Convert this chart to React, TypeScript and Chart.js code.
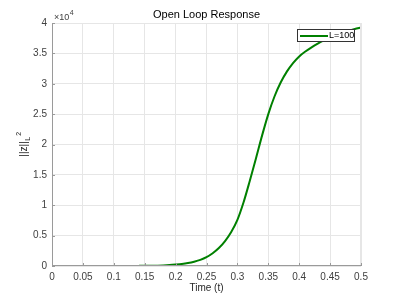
import React, { useEffect, useRef } from "react";
import { Chart, registerables } from "chart.js";

Chart.register(...registerables);

const timeValues: number[] = [
  0, 0.05, 0.1, 0.12, 0.14, 0.16, 0.18, 0.19, 0.2, 0.21, 0.22, 0.23, 0.24, 0.25,
  0.26, 0.27, 0.28, 0.29, 0.3, 0.31, 0.32, 0.33, 0.34, 0.35, 0.36, 0.37, 0.38,
  0.39, 0.4, 0.41, 0.42, 0.43, 0.44, 0.45, 0.46, 0.47, 0.48, 0.49, 0.5,
];
const responseValues: number[] = [
  0, 0, 3, 8, 20, 45, 100, 150, 230, 330, 480, 700, 1000, 1450,
  2100, 2950, 4100, 5600, 7600, 10500, 14000, 17700, 21500, 25000, 27900, 30200, 32000,
  33400, 34500, 35300, 36000, 36620, 37160, 37630, 38040, 38400, 38720, 39000, 39250,
];
const xTickValues: number[] = [0, 0.05, 0.1, 0.15, 0.2, 0.25, 0.3, 0.35, 0.4, 0.45, 0.5];
const yTickValues: number[] = [0, 5000, 10000, 15000, 20000, 25000, 30000, 35000, 40000];
const seriesLabel = "L=100";
const titleText = "Open Loop Response";
const xTitle = "Time (t)";

const FONT = "'Liberation Sans', Arial, Helvetica, sans-serif";
const TEXT = "#262626";
const TICK_TEXT = "#404040";
const AXIS = "#9a9a9a";
const GRID = "#e6e6e6";
const GREEN = "#008000";

const decorPlugin = {
  id: "decor",
  afterDatasetsDraw(chart: any) {
    const { ctx, chartArea: a, scales } = chart;
    const xs = scales.x;
    const ys = scales.y;
    ctx.save();
    ctx.strokeStyle = GRID;
    ctx.lineWidth = 1;
    ctx.beginPath();
    ctx.moveTo(a.left, a.top + 0.5);
    ctx.lineTo(a.right, a.top + 0.5);
    ctx.moveTo(a.right - 0.5, a.top);
    ctx.lineTo(a.right - 0.5, a.bottom);
    ctx.stroke();
    ctx.strokeStyle = AXIS;
    ctx.beginPath();
    ctx.moveTo(a.left + 0.5, a.top);
    ctx.lineTo(a.left + 0.5, a.bottom);
    ctx.moveTo(a.left, a.bottom - 0.5);
    ctx.lineTo(a.right, a.bottom - 0.5);
    xTickValues.forEach((v) => {
      const px = Math.round(xs.getPixelForValue(v)) + 0.5;
      ctx.moveTo(px, a.bottom);
      ctx.lineTo(px, a.bottom - 3);
    });
    yTickValues.forEach((v) => {
      const py = Math.round(ys.getPixelForValue(v)) + 0.5;
      ctx.moveTo(a.left, py);
      ctx.lineTo(a.left + 3, py);
    });
    ctx.stroke();

    ctx.fillStyle = "#000";
    ctx.font = `11px ${FONT}`;
    ctx.textAlign = "center";
    ctx.textBaseline = "middle";
    ctx.fillText(titleText, (a.left + a.right) / 2, 15);

    ctx.fillStyle = TEXT;
    ctx.font = `10px ${FONT}`;
    ctx.fillText(xTitle, (a.left + a.right) / 2, 288);

    ctx.fillStyle = TICK_TEXT;
    ctx.textAlign = "left";
    ctx.textBaseline = "alphabetic";
    ctx.font = `9px ${FONT}`;
    ctx.fillText("\u00d710", a.left + 2, 20);
    const w10 = ctx.measureText("\u00d710").width;
    ctx.font = `7px ${FONT}`;
    ctx.fillText("4", a.left + 2 + w10 + 0.5, 15);

    ctx.save();
    ctx.translate(27, (a.top + a.bottom) / 2);
    ctx.rotate(-Math.PI / 2);
    ctx.fillStyle = TEXT;
    ctx.font = `10px ${FONT}`;
    const main = "||z||";
    const mw = ctx.measureText(main).width;
    ctx.font = `7px ${FONT}`;
    const sw = ctx.measureText("L").width;
    const total = mw + sw + 5;
    const x0 = -total / 2;
    ctx.font = `10px ${FONT}`;
    ctx.textAlign = "left";
    ctx.textBaseline = "alphabetic";
    ctx.fillText(main, x0, 0);
    ctx.font = `7px ${FONT}`;
    ctx.fillText("L", x0 + mw + 0.5, 3);
    ctx.fillText("2", x0 + mw + sw + 1.5, -6);
    ctx.restore();

    const lx = 297, ly = 29, lw = 58, lh = 13;
    ctx.fillStyle = "#fff";
    ctx.fillRect(lx, ly, lw, lh);
    ctx.strokeStyle = "#333";
    ctx.lineWidth = 1;
    ctx.strokeRect(lx + 0.5, ly + 0.5, lw - 1, lh - 1);
    ctx.strokeStyle = GREEN;
    ctx.lineWidth = 2;
    ctx.beginPath();
    ctx.moveTo(lx + 3, ly + lh / 2 + 0.5);
    ctx.lineTo(lx + 31, ly + lh / 2 + 0.5);
    ctx.stroke();
    ctx.fillStyle = "#000";
    ctx.font = `9px ${FONT}`;
    ctx.textAlign = "left";
    ctx.textBaseline = "middle";
    ctx.fillText(chart.data.datasets[0].label, lx + 32, ly + lh / 2 + 0.5);
    ctx.restore();
  },
};

export default function App() {
  const ref = useRef<HTMLCanvasElement>(null);
  useEffect(() => {
    if (!ref.current) return;
    const chart = new Chart(ref.current, {
      type: "line",
      data: {
        datasets: [
          {
            label: seriesLabel,
            data: timeValues.map((t, i) => ({ x: t, y: responseValues[i] })),
            borderColor: GREEN,
            borderWidth: 2,
            pointRadius: 0,
            cubicInterpolationMode: "monotone",
            fill: false,
          },
        ],
      },
      options: {
        responsive: false,
        animation: false,
        maintainAspectRatio: false,
        layout: { padding: { left: 0, right: 38, top: 23, bottom: 0 } },
        plugins: { legend: { display: false }, title: { display: false }, tooltip: { enabled: false } },
        scales: {
          x: {
            type: "linear",
            min: 0,
            max: 0.5,
            afterBuildTicks: (s: any) => {
              s.ticks = xTickValues.map((v) => ({ value: v }));
            },
            afterFit: (s: any) => {
              s.height = 33;
            },
            grid: { color: GRID, drawTicks: false },
            border: { display: false },
            ticks: {
              padding: 5,
              color: TICK_TEXT,
              font: { family: FONT, size: 10 },
              maxRotation: 0,
              autoSkip: false,
              callback: (v: any) => String(Number(v)),
            },
          },
          y: {
            type: "linear",
            min: 0,
            max: 40000,
            afterBuildTicks: (s: any) => {
              s.ticks = yTickValues.map((v) => ({ value: v }));
            },
            afterFit: (s: any) => {
              s.width = 52;
            },
            grid: { color: GRID, drawTicks: false },
            border: { display: false },
            ticks: {
              padding: 5,
              color: TICK_TEXT,
              font: { family: FONT, size: 10 },
              autoSkip: false,
              callback: (v: any) => String(Number(v) / 10000),
            },
          },
        },
      },
      plugins: [decorPlugin],
    });
    return () => chart.destroy();
  }, []);
  return (
    <div style={{ position: "fixed", left: 0, top: 0, width: 399, height: 299, background: "#fff" }}>
      <canvas ref={ref} width={399} height={299} style={{ width: 399, height: 299 }} />
    </div>
  );
}
